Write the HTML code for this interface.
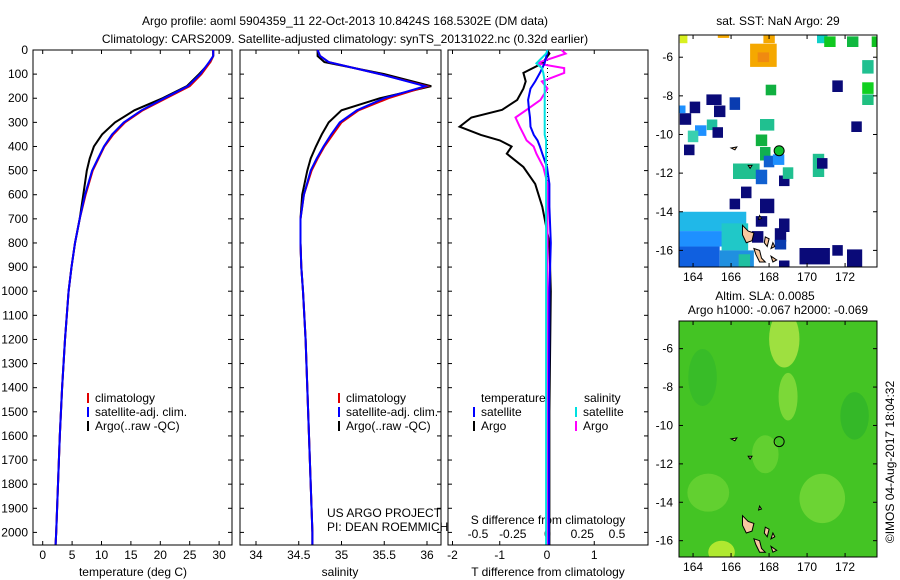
<!DOCTYPE html>
<html><head><meta charset="utf-8"><style>
body{margin:0;background:#fff}
svg{display:block;font-family:"Liberation Sans",sans-serif;font-size:12px}
</style></head><body>
<svg id="c" width="900" height="580" viewBox="0 0 900 580">
<g id="g"></g>
</svg>
<script>
// ---------- data ----------
const depthTicks=[0,100,200,300,400,500,600,700,800,900,1000,1100,1200,1300,1400,1500,1600,1700,1800,1900,2000];
const tempTicks=[0,5,10,15,20,25,30];
const salTicks=[34,34.5,35,35.5,36];
const salTickLabels=["34","34.5","35","35.5","36"];
const tdiffTicks=[-2,-1,0,1];
const sdiffTicks=[-0.5,-0.25,0,0.25,0.5];
const profDepth=[0,25,50,100,150,200,250,300,350,400,450,500,600,700,800,900,1000,1200,1400,1600,1800,2000,2050];
const tempClim=[29,29,28.5,27,25,21,17,14,12,10.5,9.5,8.5,7.3,6.3,5.5,4.9,4.4,3.8,3.3,2.9,2.6,2.3,2.2];
const tempSat=[29,29,28.3,26.8,24.7,20.7,16.8,13.8,11.8,10.4,9.4,8.4,7.2,6.3,5.5,4.9,4.4,3.8,3.3,2.9,2.6,2.3,2.2];
const tempArgo=[29,29,28.5,26.6,24.5,20.4,15.6,12.3,10.1,8.7,8.0,7.5,6.9,6.3,5.5,4.9,4.4,3.8,3.3,2.9,2.6,2.3,2.2];
const salClim=[34.72,34.75,34.85,35.45,36.0,35.55,35.2,35.0,34.9,34.8,34.72,34.65,34.56,34.52,34.52,34.53,34.55,34.58,34.6,34.62,34.64,34.66,34.66];
const salSat=[34.72,34.75,34.85,35.45,35.98,35.5,35.18,34.98,34.88,34.79,34.71,34.64,34.56,34.52,34.52,34.53,34.55,34.58,34.6,34.62,34.64,34.66,34.66];
const salArgo=[34.72,34.72,34.8,35.5,36.05,35.45,35.0,34.85,34.77,34.7,34.64,34.6,34.54,34.52,34.52,34.53,34.55,34.58,34.6,34.62,34.64,34.66,34.66];
const dDepth=[0,15,55,75,95,130,160,207,248,280,318,352,375,400,430,485,555,650,800,1000,1500,2050];
const tdArgo=[0,0.05,-0.1,-0.3,-0.5,-0.45,-0.5,-0.63,-0.95,-1.6,-1.85,-1.4,-1.0,-0.75,-0.85,-0.5,-0.25,-0.1,0.05,0.08,0.05,0.05];
const tdSat=[0,0,-0.05,-0.1,-0.15,-0.25,-0.35,-0.4,-0.38,-0.36,-0.35,-0.28,-0.2,-0.15,-0.1,0,0.05,0.05,0.08,0.05,0.04,0.04];
const sdArgo=[0.1,0.13,-0.08,0.12,0.12,-0.04,0.0,-0.05,-0.15,-0.23,-0.2,-0.17,-0.15,-0.1,-0.08,-0.03,0,0,0,0,0,0];
const sdSat=[0,-0.01,-0.08,-0.04,-0.03,-0.02,-0.02,-0.02,-0.02,-0.02,-0.02,-0.02,-0.01,-0.01,-0.01,-0.01,-0.01,-0.01,-0.01,-0.01,-0.01,-0.01];
const lonTicks=[164,166,168,170,172];
const latTicks=[-6,-8,-10,-12,-14,-16];
// SST cells: lon, lat, width(deg), height(deg), colour
const sstLon=[165.1,165.4,164.1,163.6,166.2,163.4,164.4,165.0,165.3,164.0,163.8,171.6,172.6,168.1,167.9,167.6,167.8,168.0,168.5,166.8,167.6,168.8,169.0,170.6,170.8,166.8,166.2,167.9,167.6,168.8,168.6,168.6,167.4,170.4,171.6,172.5,168.8,167.7,167.7,168.0,165.6,163.5,170.8,171.2,172.4,173.6,173.75,173.2,173.2,173.2];
const sstLat=[-8.2,-8.8,-8.6,-9.2,-8.4,-8.7,-9.8,-9.5,-9.9,-10.1,-10.8,-7.5,-9.6,-7.7,-9.5,-10.3,-11.0,-11.4,-11.3,-11.9,-12.2,-12.4,-12.0,-11.6,-11.5,-13.0,-13.6,-13.7,-14.5,-14.7,-15.2,-15.7,-15.3,-16.3,-16.0,-16.5,-16.8,-5.9,-6.0,-5.0,-4.9,-5.0,-5.0,-5.2,-5.2,-5.2,-5.8,-6.5,-7.6,-8.2];
const sstW=[0.8,0.6,0.55,0.6,0.55,0.4,0.6,0.55,0.55,0.55,0.55,0.55,0.55,0.55,0.75,0.6,0.55,0.55,0.6,1.4,0.6,0.55,0.55,0.6,0.55,0.55,0.55,0.75,0.6,0.55,0.6,0.6,0.6,1.6,0.55,0.8,0.55,1.4,0.6,0.6,0.6,0.4,0.55,0.6,0.6,0.4,0.2,0.6,0.6,0.6];
const sstH=[0.55,0.6,0.6,0.6,0.65,0.4,0.55,0.55,0.55,0.6,0.55,0.6,0.55,0.55,0.6,0.6,0.7,0.6,0.55,0.8,0.75,0.55,0.6,1.2,0.55,0.6,0.55,0.75,0.55,0.7,0.7,0.5,0.6,0.85,0.55,1.1,0.55,1.2,0.5,0.55,0.2,0.55,0.55,0.55,0.55,0.55,0.6,0.7,0.6,0.55];
const sstCol=["#0a0a78","#0a0a78","#0a0a78","#0a0a78","#0a3cb0","#1e90ff","#1e90ff","#20c0a0","#0a0a78","#3ad0b0","#0a0a78","#0a0a78","#0a0a78","#10b040","#20c090","#10b040","#10b050","#1060d0","#1e90ff","#20c090","#1060d0","#0a0a78","#20c090","#20c090","#0a0a78","#0a0a78","#0a0a78","#0a0a78","#0a0a78","#0a0a78","#0a0a78","#0a3cb0","#0a0a78","#0a0a78","#0a0a78","#0a0a78","#0a0a78","#f5a800","#f08a10","#f5a800","#f5a800","#d8f020","#10d0c8","#10c820","#10b840","#10c020","#d8f020","#20c090","#10d020","#20c080"];
const argoLon=168.53, argoLat=-10.84;
// ---------- helpers ----------
const NS="http://www.w3.org/2000/svg";
const G=document.getElementById('g');
const PB=545;
function mk(t,a,p){const e=document.createElementNS(NS,t);for(const k in a)e.setAttribute(k,a[k]);(p||G).appendChild(e);return e;}
function txt(x,y,s,anchor,p){const e=mk('text',{x:x,y:y,'text-anchor':anchor||'middle'},p);e.textContent=s;return e;}
const yD=d=>50+d*0.2412;
const xT=t=>42.7+t*5.88;
const xS=s=>256+(s-34)*85.5;
const xTd=v=>547+v*47.25;
const xSd=v=>547.5+v*139;
function line(xs,ys,fx,col,name,w){
  const pts=xs.map((v,i)=>fx(v).toFixed(1)+','+Math.min(PB,yD(ys[i])).toFixed(1)).join(' ');
  const e=mk('polyline',{points:pts,fill:'none',stroke:col,'stroke-width':w||2});
  
  
}
function box(x0,x1,name){const r=mk('rect',{x:x0,y:50,width:x1-x0,height:PB-50,fill:'#fff',stroke:'#000','stroke-width':1});
 }
// titles
let t=txt(345,25,"Argo profile: aoml 5904359_11 22-Oct-2013 10.8424S 168.5302E (DM data)");

t=txt(345,43,"Climatology: CARS2009. Satellite-adjusted climatology: synTS_20131022.nc (0.32d earlier)");

// panels
box(33,232,'temperature-panel');box(240,441,'salinity-panel');box(448,648,'difference-panel');
depthTicks.forEach(d=>{
  const y=yD(d);
  let l=txt(28,y+4,String(d),'end');
  [[33,232],[240,441],[448,648]].forEach(([a,b])=>{mk('line',{x1:a,y1:y,x2:a+4,y2:y,stroke:'#000'});mk('line',{x1:b,y1:y,x2:b-4,y2:y,stroke:'#000'});});
});
function xtick(x){mk('line',{x1:x,y1:PB,x2:x,y2:PB-4,stroke:'#000'});mk('line',{x1:x,y1:50,x2:x,y2:54,stroke:'#000'});}
tempTicks.forEach(v=>{const x=xT(v);xtick(x);
 let l=txt(x,559,String(v));});
salTicks.forEach((v,i)=>{const x=xS(v);xtick(x);
 let l=txt(x,559,salTickLabels[i]);});
tdiffTicks.forEach(v=>{const x=xTd(v);xtick(x);
 let l=txt(x,559,String(v));});
sdiffTicks.forEach(v=>{const x=xSd(v);
 let l=txt(x,538,String(v));});
t=txt(133,576,"temperature (deg C)");
t=txt(340,576,"salinity");
t=txt(548,576,"T difference from climatology");
t=txt(548,524,"S difference from climatology");
t=txt(327,517,"US ARGO PROJECT",'start');
t=txt(327,531,"PI: DEAN ROEMMICH",'start');
// zero line in diff panel
for(let y=52;y<PB-1;y+=4)mk('rect',{x:547,y:y,width:1,height:1,fill:'#000'});
// series
line(tempArgo,profDepth,xT,'#000','temp-argo-line');
line(tempClim,profDepth,xT,'#e00000','temp-clim-line');
line(tempSat,profDepth,xT,'#0000ff','temp-sat-line');
line(salArgo,profDepth,xS,'#000','sal-argo-line');
line(salClim,profDepth,xS,'#e00000','sal-clim-line');
line(salSat,profDepth,xS,'#0000ff','sal-sat-line');
line(tdArgo,dDepth,xTd,'#000','tdiff-argo-line');
line(sdArgo,dDepth,xSd,'#ff00ff','sdiff-argo-line');
line(tdSat,dDepth,xTd,'#0000ff','tdiff-sat-line');
line(sdSat,dDepth,xSd,'#00e0e0','sdiff-sat-line');
// legends
function leg(x,y,col,s,name){mk('line',{x1:x,y1:y-9,x2:x,y2:y+1,stroke:col,'stroke-width':2});
 const l=txt(x+7,y,s,'start');}
[[88,'temp'],[339,'sal']].forEach(([x,n])=>{leg(x,402,'#e00000','climatology',n+'-legend-clim');leg(x,416,'#0000ff','satellite-adj. clim.',n+'-legend-sat');leg(x,430,'#000','Argo(..raw -QC)',n+'-legend-argo');});
t=txt(481,402,"temperature",'start');
t=txt(584,402,"salinity",'start');
leg(474,416,'#0000ff','satellite','legend-t-satellite');leg(474,430,'#000','Argo','legend-t-argo');
leg(576,416,'#00e0e0','satellite','legend-s-satellite');leg(576,430,'#ff00ff','Argo','legend-s-argo');
// ---------- maps ----------
const defs=mk('defs',{});
function mapPanel(y0,y1,latTop,latBot,id,name){
  const x0=679,x1=877,lonL=163.26,lonR=173.68;
  const fx=l=>x0+(l-lonL)/(lonR-lonL)*(x1-x0);
  const fy=l=>y0+(latTop-l)/(latTop-latBot)*(y1-y0);
  const cp=mk('clipPath',{id:id},defs);mk('rect',{x:x0,y:y0,width:x1-x0,height:y1-y0},cp);
  const g=mk('g',{'clip-path':'url(#'+id+')'});
  
  return {g,fx,fy,x0,x1,y0,y1};
}
function frame(m,name){
  const r=mk('rect',{x:m.x0,y:m.y0,width:m.x1-m.x0,height:m.y1-m.y0,fill:'none',stroke:'#000'});
  
  lonTicks.forEach(v=>{const x=m.fx(v);mk('line',{x1:x,y1:m.y1,x2:x,y2:m.y1-4,stroke:'#000'});mk('line',{x1:x,y1:m.y0,x2:x,y2:m.y0+4,stroke:'#000'});
    const l=txt(x,m.y1+14,String(v));});
  latTicks.forEach(v=>{const y=m.fy(v);mk('line',{x1:m.x0,y1:y,x2:m.x0+4,y2:y,stroke:'#000'});mk('line',{x1:m.x1,y1:y,x2:m.x1-4,y2:y,stroke:'#000'});
    const l=txt(m.x0-6,y+4,String(v),'end');});
}
const islands=[
 [[166.6,-14.7],[166.9,-15.0],[167.2,-15.1],[167.1,-15.5],[166.8,-15.6],[166.6,-15.2]],
 [[167.2,-15.9],[167.5,-16.0],[167.6,-16.4],[167.8,-16.6],[167.5,-16.6],[167.3,-16.2]],
 [[167.8,-15.3],[168.0,-15.4],[167.9,-15.8],[167.75,-15.6]],
 [[168.2,-15.6],[168.3,-15.8],[168.1,-15.9]],
 [[168.1,-16.3],[168.4,-16.5],[168.2,-16.6]],
 [[167.5,-14.2],[167.6,-14.35],[167.45,-14.4]],
 [[166.9,-11.6],[167.1,-11.6],[167.0,-11.75]],
 [[166.0,-10.7],[166.3,-10.65],[166.2,-10.8]]
];
function drawIslands(m){islands.forEach(p=>{const e=mk('polygon',{points:p.map(q=>m.fx(q[0]).toFixed(1)+','+m.fy(q[1]).toFixed(1)).join(' '),fill:'#f8c8a0',stroke:'#000','stroke-width':1},m.g);
 });}
// map 1
const m1=mapPanel(35,267,-4.85,-16.86,'clip1','sst-map');
mk('rect',{x:679,y:35,width:199,height:232,fill:'#fff'},m1.g);
[[163.2,-14.0,3.6,1.0,'#20b8e8'],[163.2,-15.0,3.0,0.8,'#1e90ff'],[165.5,-14.6,1.4,1.4,'#20c8c8'],[163.2,-15.8,2.2,1.2,'#1060e0'],[165.4,-16.0,1.8,1.0,'#2090e0'],[166.4,-16.2,0.6,0.7,'#20c0a0']].forEach(c=>{
 const e=mk('rect',{x:m1.fx(c[0]),y:m1.fy(c[1]),width:c[2]*19,height:c[3]*19.34,fill:c[4]},m1.g);
 });
sstLon.forEach((lo,i)=>{
 const w=sstW[i]*19,h=sstH[i]*19.34;
 const e=mk('rect',{x:(m1.fx(lo)-w/2).toFixed(1),y:(m1.fy(sstLat[i])-h/2).toFixed(1),width:w.toFixed(1),height:h.toFixed(1),fill:sstCol[i]},m1.g);
 
 
});
drawIslands(m1);
let c=mk('circle',{cx:m1.fx(argoLon),cy:m1.fy(argoLat),r:5,fill:'#10c030',stroke:'#000'});

frame(m1,'sst-map-frame');
t=txt(778,25,"sat. SST: NaN Argo: 29");
// map 2
const m2=mapPanel(321,557,-4.56,-16.85,'clip2','sla-map');
mk('rect',{x:679,y:321,width:199,height:236,fill:'#44c424'},m2.g);
[[168.8,-5.5,1.6,3,'#9ee040'],[169.0,-8.5,1.0,2.5,'#7cd838'],[167.8,-11.5,1.4,2.0,'#62d030'],[164.8,-13.5,2.2,2.0,'#62d030'],[170.8,-13.8,2.4,2.6,'#6cd434'],[165.5,-16.6,1.4,1.2,'#b0e830'],[172.5,-9.5,1.5,2.5,'#34b828'],[164.5,-7.5,1.5,3,'#38bc28']].forEach(c=>{
 const e=mk('ellipse',{cx:m2.fx(c[0]),cy:m2.fy(c[1]),rx:c[2]*9.5,ry:c[3]*9.5,fill:c[4]},m2.g);
 });
drawIslands(m2);
c=mk('circle',{cx:m2.fx(argoLon),cy:m2.fy(argoLat),r:5,fill:'none',stroke:'#000'});

frame(m2,'sla-map-frame');
t=txt(765,300,"Altim. SLA: 0.0085");
t=txt(778,314,"Argo h1000: -0.067 h2000: -0.069");
t=txt(0,0,"©IMOS 04-Aug-2017 18:04:32");t.setAttribute('transform','translate(894,462) rotate(-90)');

</script>
</body></html>
